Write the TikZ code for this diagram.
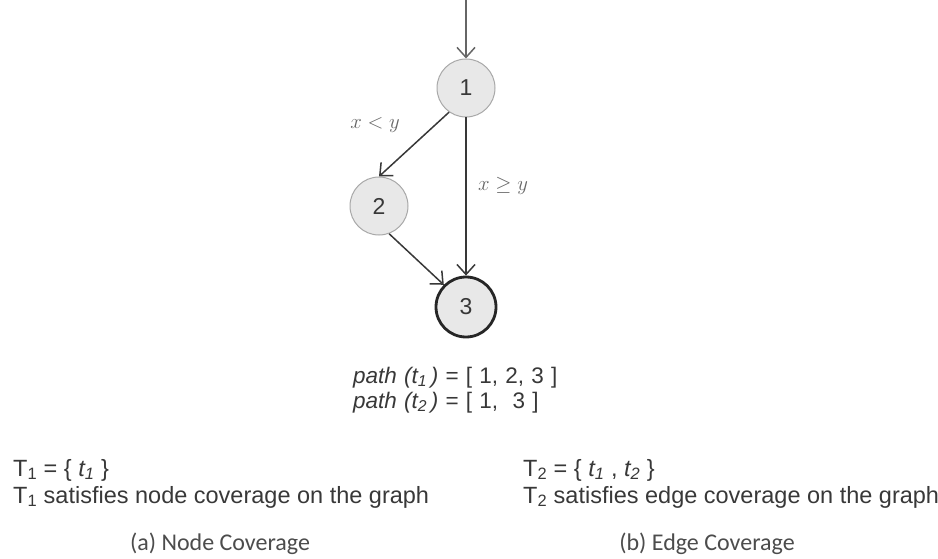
\documentclass[tikz,border=0pt]{standalone}
\usepackage{fontspec}
\setmainfont{Liberation Sans}
\newfontfamily\capfont{Carlito}
\usetikzlibrary{arrows.meta}
\definecolor{nodefill}{HTML}{E8E8E8}
\definecolor{nodeline}{HTML}{A8A8A8}
\definecolor{edgecol}{HTML}{383838}
\definecolor{textcol}{HTML}{383838}
\newcommand\widespaces{\spaceskip=0.32em\relax}
\begin{document}
\begin{tikzpicture}[x=1pt,y=-1pt,
  vertex/.style={circle,draw=nodeline,fill=nodefill,line width=1pt,minimum size=58pt,inner sep=0pt,font=\fontsize{23}{26}\selectfont,text=textcol},
  final/.style={vertex,draw=black!85,line width=2.8pt,minimum size=60pt},
  edge/.style={draw=edgecol,line width=1.5pt,-{Straight Barb[length=10pt,width=18pt,line width=1.5pt]}},
  cond/.style={text=black!60,font=\fontsize{22}{26}\selectfont},
  body/.style={text=textcol,font=\fontsize{23.5}{28}\selectfont,anchor=base west,inner sep=0pt},
  pathtext/.style={body,font=\fontsize{22.5}{25}\selectfont\widespaces},
  caption/.style={text=black!70,font=\capfont\fontsize{24}{28}\selectfont,anchor=base,inner sep=0pt}]
\useasboundingbox (0,0) rectangle (938,559);

% graph
\node[vertex] (n1) at (466,88) {1};
\node[vertex] (n2) at (379,206) {2};
\node[final] (n3) at (466,307) {3};
\coordinate (entry) at (466,0);

\draw[edge,draw=black!60] (entry) -- (n1.north);
\draw[edge] (n1.235) -- (n2.north);
\draw[edge] (n1.south) -- (n3.north);
\draw[edge] (n2.-70) -- (n3.135);

\node[cond] (lt) at (375,125) {$x < y$};
\node[cond] (ge) at (503,186) {$x \geq y$};

% test paths
\node[pathtext] (p1) at (353,383) {\textit{path (t\textsubscript{1}\,)} = [ 1, 2, 3 ]};
\node[pathtext] (p2) at (353,408) {\textit{path (t\textsubscript{2}\,)} = [ 1, \ 3 ]};

% (a) node coverage
\node[body] (s1) at (13,476) {T\textsubscript{1} = \{ \textit{t\textsubscript{1}} \}};
\node[body] (c1) at (13,503) {T\textsubscript{1} satisfies node coverage on the graph};
\node[caption] (a) at (220,550) {(a) Node Coverage};

% (b) edge coverage
\node[body] (s2) at (523,476) {T\textsubscript{2} = \{ \textit{t\textsubscript{1}} , \textit{t\textsubscript{2}} \}};
\node[body] (c2) at (523,503) {T\textsubscript{2} satisfies edge coverage on the graph};
\node[caption] (b) at (707,550) {(b) Edge Coverage};
\end{tikzpicture}
\end{document}
